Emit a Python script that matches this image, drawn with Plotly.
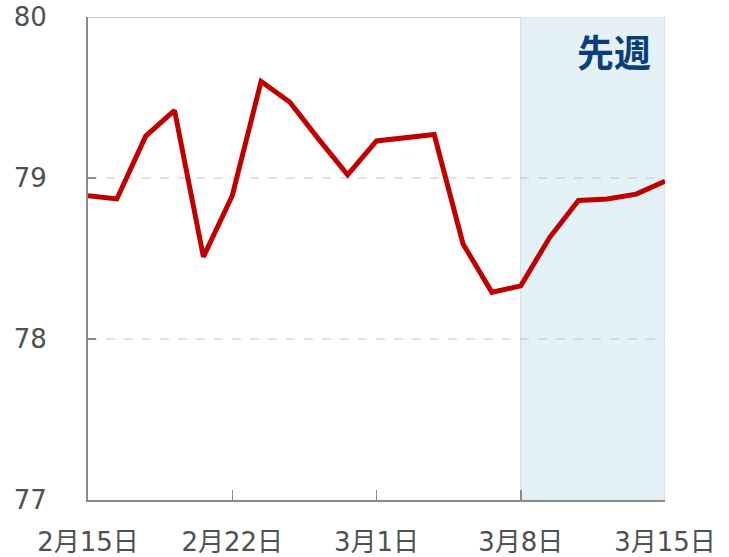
import plotly.graph_objects as go

dates = ["2月15日", "2月16日", "2月17日", "2月18日", "2月19日",
         "2月22日", "2月23日", "2月24日", "2月25日", "2月26日",
         "3月1日", "3月2日", "3月3日", "3月4日", "3月5日",
         "3月8日", "3月9日", "3月10日", "3月11日", "3月12日",
         "3月15日"]
values = [78.89, 78.87, 79.26, 79.42, 78.51,
          78.89, 79.60, 79.47, 79.24, 79.02,
          79.23, 79.25, 79.27, 78.59, 78.29,
          78.33, 78.63, 78.86, 78.87, 78.90,
          78.98]
tick_labels = ["2月15日", "2月22日", "3月1日", "3月8日", "3月15日"]
y_ticks = [77, 78, 79, 80]
shade_start, shade_end = "3月8日", "3月15日"
shade_label = "先週"

font_fam = "DejaVu Sans, Noto Sans CJK JP, sans-serif"

fig = go.Figure()
fig.add_trace(go.Scatter(x=dates, y=values, mode="lines",
                         line=dict(color="#c00000", width=5), hoverinfo="skip"))

n = len(dates) - 1
i0, i1 = dates.index(shade_start), dates.index(shade_end)
fig.add_shape(type="rect", xref="x", yref="y", x0=i0, x1=i1, y0=77, y1=80,
              fillcolor="#e4f1f7", line=dict(color="#d3dcdf", width=1), layer="below")

for v in [78, 79]:
    fig.add_shape(type="line", xref="x", yref="y", x0=0, x1=n, y0=v, y1=v,
                  line=dict(color="#c4c4c4", width=1, dash="dash"), layer="below")
fig.add_shape(type="line", xref="x", yref="y", x0=0, x1=i0, y0=80, y1=80,
              line=dict(color="#c8c8c8", width=2), layer="below")

fig.add_annotation(x=i1, y=80, xref="x", yref="y", text=f"<b>{shade_label}</b>",
                   showarrow=False, xanchor="right", yanchor="top", xshift=-12, yshift=-5,
                   font=dict(family="Noto Sans CJK JP", size=37, color="#0b3d7e"))

fig.update_layout(
    width=729, height=557,
    margin=dict(l=88, r=64, t=17, b=57),
    plot_bgcolor="white", paper_bgcolor="white",
    showlegend=False,
    font=dict(family=font_fam, size=26, color="#4b5352"),
    xaxis=dict(type="category", categoryorder="array", categoryarray=dates,
               range=[0, n], automargin=False, ticklabeloverflow="allow",
               tickmode="array", tickvals=tick_labels, ticktext=tick_labels,
               showgrid=False, showline=True, linecolor="#8c8c8c", linewidth=2,
               ticks="inside", ticklen=10, tickcolor="#8c8c8c", tickwidth=1.5,
               ticklabelstandoff=18, zeroline=False),
    yaxis=dict(range=[77, 80], tickmode="array", tickvals=y_ticks, automargin=False,
               ticklabeloverflow="allow",
               showgrid=False, showline=True, linecolor="#8c8c8c", linewidth=2,
               ticks="inside", ticklen=8, tickcolor="#8c8c8c", tickwidth=1.5,
               ticklabelstandoff=34, zeroline=False),
)

fig.write_html("out.html",
               config={"displayModeBar": False, "staticPlot": True},
               post_script="document.body.style.margin='0';document.body.style.overflow='hidden';")
